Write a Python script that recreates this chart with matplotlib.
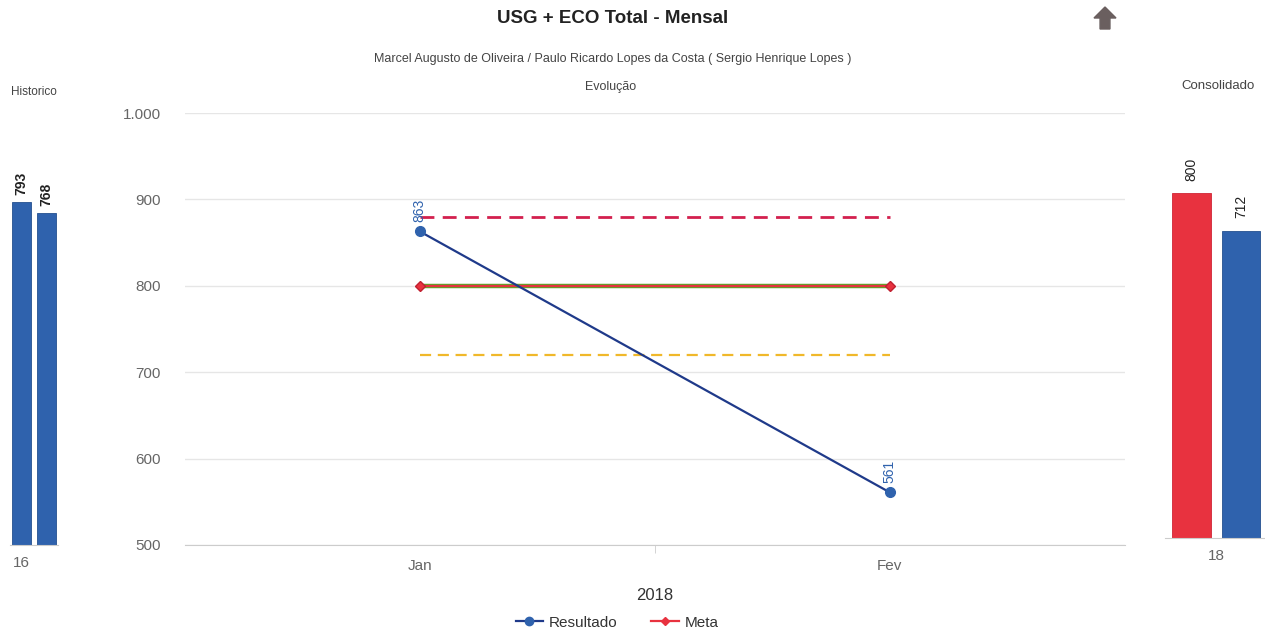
import numpy as np
import matplotlib
matplotlib.use("Agg")
import matplotlib.pyplot as plt
from matplotlib.ticker import FuncFormatter
from matplotlib.lines import Line2D
from matplotlib.patches import Polygon

plt.rcParams['font.family'] = ['Liberation Sans', 'DejaVu Sans']

# dados
meses = ['Jan', 'Fev']
resultado = [863, 561]
meta = [800, 800]
limite_sup = [880, 880]
limite_inf = [720, 720]

hist_cat = '16'
hist_vals = [793, 768]

cons_cat = '18'
cons_meta = 800
cons_result = 712

azul = '#2f62ad'
azul_linha = '#1f3a8a'
vermelho = '#e8323f'
cinza = '#666666'

fig = plt.figure(figsize=(12.65, 6.32), dpi=100)

# --- grafico principal (Evolução) ---
ax = fig.add_axes([0.146, 0.1377, 0.743, 0.6835])
x = np.arange(len(meses))
ax.plot(x, limite_sup, ls=(0, (5, 3)), color='#d3204e', lw=2)
ax.plot(x, limite_inf, ls=(0, (5, 3)), color='#f0b82a', lw=1.6)
ax.plot(x, meta, color='#6a9a2a', lw=3.2)
ax.plot(x, meta, color=vermelho, lw=1.4, marker='D', ms=5,
        markerfacecolor=vermelho, markeredgecolor='#c02030')
ax.plot(x, resultado, color=azul_linha, lw=1.6, marker='o', ms=7,
        markerfacecolor=azul, markeredgecolor=azul)
for xi, v in zip(x, resultado):
    ax.annotate(str(v), (xi, v), xytext=(0, 7), textcoords='offset points',
                rotation=90, ha='center', va='bottom', color=azul,
                fontsize=10)

ax.set_xlim(-0.5, 1.5)
ax.set_ylim(500, 1000)
ax.set_yticks(range(500, 1001, 100))
ax.yaxis.set_major_formatter(FuncFormatter(lambda v, p: f'{int(v):,}'.replace(',', '.')))
ax.set_xticks(x)
ax.set_xticklabels(meses)
ax.set_xticks([0.5], minor=True)
ax.tick_params(axis='x', which='major', length=0, pad=10, colors=cinza, labelsize=11)
ax.tick_params(axis='x', which='minor', length=6, color='#cccccc', direction='out')
ax.tick_params(axis='y', length=0, pad=17, colors=cinza, labelsize=11)
ax.grid(axis='y', color='#e6e6e6', lw=1)
for s in ['top', 'right', 'left']:
    ax.spines[s].set_visible(False)
ax.spines['bottom'].set_color('#cccccc')
ax.set_xlabel('2018', fontsize=12, color='#333333', labelpad=11)

handles = [Line2D([0], [0], color=azul_linha, marker='o', ms=6,
                  markerfacecolor=azul, markeredgecolor=azul, lw=1.6),
           Line2D([0], [0], color=vermelho, marker='D', ms=4,
                  markerfacecolor=vermelho, lw=1.6)]
fig.legend(handles, ['Resultado', 'Meta'], loc='center', bbox_to_anchor=(0.488, 0.015),
           ncol=2, frameon=False, fontsize=11, handlelength=1.8,
           columnspacing=2.2, handletextpad=0.4, labelcolor='#333333')

# --- Historico ---
axh = fig.add_axes([0.0079, 0.1377, 0.038, 0.6835])
axh.bar([0, 1], hist_vals, width=0.76, color=azul, edgecolor='#24508f', lw=0.6)
for xi, v in zip([0, 1], hist_vals):
    axh.annotate(str(v), (xi, v), xytext=(0, 5), textcoords='offset points',
                 rotation=90, ha='center', va='bottom', fontsize=10,
                 fontweight='bold', color='#222222')
axh.set_xlim(-0.46, 1.46)
axh.set_ylim(0, 1000)
axh.set_xticks([0])
axh.set_xticklabels([hist_cat])
axh.tick_params(axis='x', length=0, pad=8, colors=cinza, labelsize=11)
axh.set_yticks([])
for s in ['top', 'right', 'left']:
    axh.spines[s].set_visible(False)
axh.spines['bottom'].set_color('#cccccc')

# --- Consolidado ---
axc = fig.add_axes([0.921, 0.149, 0.079, 0.682])
axc.bar([0, 1], [cons_meta, cons_result], width=0.78,
        color=[vermelho, azul], edgecolor=['#d02535', '#24508f'], lw=0.6)
for xi, v in zip([0, 1], [cons_meta, cons_result]):
    axc.annotate(str(v), (xi, v), xytext=(0, 9), textcoords='offset points',
                 rotation=90, ha='center', va='bottom', fontsize=10,
                 color='#222222')
axc.set_xlim(-0.535, 1.485)
axc.set_ylim(0, 1000)
axc.set_xticks([0.5])
axc.set_xticklabels([cons_cat])
axc.tick_params(axis='x', length=0, pad=8, colors=cinza, labelsize=11)
axc.set_yticks([])
for s in ['top', 'right', 'left']:
    axc.spines[s].set_visible(False)
axc.spines['bottom'].set_color('#cccccc')

# titulos
fig.text(0.484, 0.971, 'USG + ECO Total - Mensal', ha='center', va='center',
         fontsize=13.5, fontweight='bold', color='#222222')
fig.text(0.484, 0.907, 'Marcel Augusto de Oliveira / Paulo Ricardo Lopes da Costa ( Sergio Henrique Lopes )',
         ha='center', va='center', fontsize=9, color='#444444')
fig.text(0.483, 0.862, 'Evolução', ha='center', va='center', fontsize=9, color='#444444')
fig.text(0.027, 0.855, 'Historico', ha='center', va='center', fontsize=8.5, color='#444444')
fig.text(0.963, 0.864, 'Consolidado', ha='center', va='center', fontsize=9.5, color='#444444')

# icone seta
cx, cy = 1105 / 1265, 1 - 18 / 632
w, h = 11 / 1265, 11 / 632
seta = Polygon([(cx, cy + h), (cx + w, cy), (cx + w * 0.45, cy), (cx + w * 0.45, cy - h),
                (cx - w * 0.45, cy - h), (cx - w * 0.45, cy), (cx - w, cy)],
               closed=True, transform=fig.transFigure, color='#6a5f5f')
fig.patches.append(seta)

fig.savefig('out.png', dpi=100)
